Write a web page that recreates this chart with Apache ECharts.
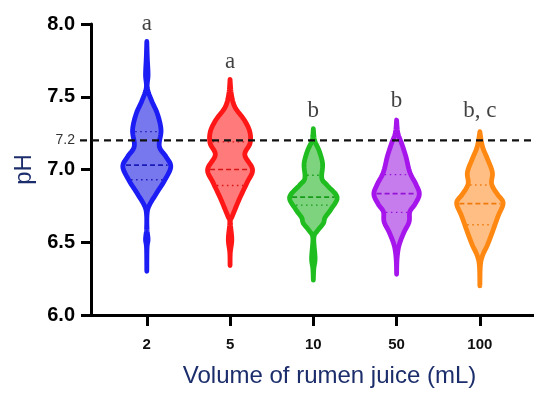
<!DOCTYPE html>
<html>
<head>
<meta charset="utf-8">
<script src="https://cdn.jsdelivr.net/npm/echarts@6/dist/echarts.min.js"></script>
<style>
html,body{margin:0;padding:0;background:#fff;}
#chart{width:534px;height:393px;}
</style>
</head>
<body>
<div id="chart"></div>
<script>
// ---- data ----
const categories = ['2', '5', '10', '50', '100'];
const letters = ['a', 'a', 'b', 'b', 'b, c'];
const letterPH = [8.0, 7.74, 7.40, 7.47, 7.40];
const refPH = 7.2;
const yTicks = [6.0, 6.5, 7.0, 7.5, 8.0];
const yLabelValues = [6.0, 6.5, 7.0, 7.2, 7.5, 8.0];

// violin density profiles: [pH, relative density]
const violin2 = [[7.88,0],[7.77,0.02],[7.65,0.05],[7.56,0.02],[7.47,0.2],[7.38,0.43],[7.27,0.57],[7.16,0.5],[7.09,0.76],[7.02,0.96],[6.93,0.73],[6.84,0.4],[6.75,0.09],[6.69,0.01],[6.59,0.01],[6.52,0.05],[6.46,0.01],[6.30,0]];
const violin5 = [[7.62,0],[7.52,0.05],[7.43,0.19],[7.34,0.57],[7.26,0.79],[7.18,0.8],[7.10,0.59],[7.00,0.9],[6.91,0.68],[6.80,0.38],[6.68,0.09],[6.64,0.01],[6.52,0.07],[6.43,0.01],[6.34,0]];
const violin10 = [[7.28,0],[7.20,0.05],[7.13,0.23],[7.04,0.37],[6.94,0.34],[6.89,0.56],[6.81,0.95],[6.73,0.72],[6.67,0.47],[6.63,0.4],[6.58,0.17],[6.53,0.02],[6.39,0.07],[6.32,0.02],[6.24,0]];
const violin50 = [[7.34,0],[7.25,0.05],[7.18,0.2],[7.09,0.37],[6.98,0.53],[6.90,0.77],[6.83,0.91],[6.76,0.73],[6.71,0.53],[6.64,0.5],[6.57,0.3],[6.48,0.1],[6.39,0.02],[6.28,0]];
const violin100 = [[7.26,0],[7.16,0.1],[7.07,0.31],[6.98,0.5],[6.90,0.47],[6.83,0.7],[6.77,0.93],[6.68,0.73],[6.57,0.5],[6.48,0.3],[6.41,0.11],[6.34,0.02],[6.20,0]];
const profiles = [violin2, violin5, violin10, violin50, violin100];

// quartiles: [Q1, median, Q3]
const quartiles2 = [6.93, 7.03, 7.26];
const quartiles5 = [6.89, 7.00, 7.19];
const quartiles10 = [6.755, 6.81, 6.96];
const quartiles50 = [6.705, 6.834, 6.965];
const quartiles100 = [6.62, 6.766, 6.893];
const quartiles = [quartiles2, quartiles5, quartiles10, quartiles50, quartiles100];

// ---- styles ----
const strokeColors = ['#1c1cf5', '#ff1616', '#1fbd1f', '#a616ec', '#ff8812'];
const fillColors = ['#7878ee', '#ff7a7a', '#7ed47e', '#c77cee', '#ffbf84'];
const lineColors = ['#1a1ab8', '#d81414', '#179a17', '#9412d4', '#ee7a0c'];
const HALF = 0.30; // x-units for density 1

function catmull(pts, steps) {
  const out = [];
  for (let i = 0; i < pts.length - 1; i++) {
    const p0 = pts[Math.max(0, i - 1)], p1 = pts[i], p2 = pts[i + 1], p3 = pts[Math.min(pts.length - 1, i + 2)];
    for (let s = 0; s < steps; s++) {
      const t = s / steps, t2 = t * t, t3 = t2 * t;
      const f = (a, b, c, d) => 0.5 * ((2 * b) + (-a + c) * t + (2 * a - 5 * b + 4 * c - d) * t2 + (-a + 3 * b - 3 * c + d) * t3);
      out.push([f(p0[0], p1[0], p2[0], p3[0]), f(p0[1], p1[1], p2[1], p3[1])]);
    }
  }
  out.push(pts[pts.length - 1]);
  return out;
}

function densityAt(prof, p) {
  for (let i = 0; i < prof.length - 1; i++) {
    const a = prof[i], b = prof[i + 1];
    if ((p <= a[0] && p >= b[0])) {
      const t = (a[0] - p) / (a[0] - b[0]);
      return a[1] + (b[1] - a[1]) * t;
    }
  }
  return 0;
}

function renderViolin(params, api) {
  const i = params.dataIndex;
  const prof = profiles[i];
  const xc = i + 1;
  const c = api.coord([xc, prof[0][0]])[0];
  const unitPx = api.size([1, 0])[0];
  const rightPx = prof.map(([p, d]) => { const y = api.coord([xc, p])[1]; return [c + d * HALF * unitPx, y]; });
  const rs = catmull(rightPx, 8);
  const ls = rs.slice(1, -1).reverse().map(([x, y]) => [2 * c - x, y]);
  const poly = rs.concat(ls);
  const children = [{
    type: 'polygon',
    shape: { points: poly },
    style: { fill: fillColors[i], stroke: strokeColors[i], lineWidth: 4.8, lineJoin: 'round' }
  }];
  quartiles[i].forEach((q, k) => {
    const y = api.coord([xc, q])[1];
    const hw = Math.max(0, densityAt(prof, q) * HALF * unitPx - 2.5);
    children.push({
      type: 'line',
      shape: { x1: c - hw, y1: y, x2: c + hw, y2: y },
      style: k === 1
        ? { stroke: lineColors[i], lineWidth: 1.7, lineDash: [5, 3] }
        : { stroke: lineColors[i], lineWidth: 1.4, lineDash: [1.5, 3.5] }
    });
  });
  return { type: 'group', children };
}

function renderRef(params, api) {
  const cs = params.coordSys;
  const y = api.coord([1, api.value(0)])[1];
  return {
    type: 'line',
    shape: { x1: cs.x - 11, y1: y, x2: cs.x + cs.width, y2: y },
    style: { stroke: '#111', lineWidth: 2.2, lineDash: [7, 5] }
  };
}

const chart = echarts.init(document.getElementById('chart'), null, { renderer: 'canvas' });
chart.setOption({
  animation: false,
  backgroundColor: '#fff',
  grid: { left: 91, right: 0, top: 24, bottom: 74, containLabel: false },
  xAxis: {
    type: 'value', min: 0.33, max: 5.65,
    splitLine: { show: false },
    axisLine: { show: true, onZero: false, lineStyle: { color: '#000', width: 3 } },
    axisTick: { show: true, length: 11, lineStyle: { color: '#000', width: 3 }, customValues: [1, 2, 3, 4, 5] },
    axisLabel: {
      show: true, customValues: [1, 2, 3, 4, 5], margin: 22,
      formatter: v => categories[Math.round(v) - 1],
      fontFamily: 'Liberation Sans, Arial', fontWeight: 'bold', fontSize: 15, color: '#111'
    },
    name: 'Volume of rumen juice (mL)', nameLocation: 'middle', nameGap: 49,
    nameTextStyle: { fontFamily: 'Liberation Sans, Arial', fontSize: 24, color: '#1c2d6b', padding: [0, 0, 0, 34] }
  },
  yAxis: {
    type: 'value', min: 6, max: 8, interval: 0.5,
    splitLine: { show: false },
    axisLine: { show: true, lineStyle: { color: '#000', width: 3 } },
    axisTick: { show: true, length: 10, lineStyle: { color: '#000', width: 3 }, customValues: yTicks },
    axisLabel: {
      show: true, customValues: yLabelValues, margin: 16,
      formatter: v => Math.abs(v - refPH) < 1e-6 ? '{s|' + v.toFixed(1) + '}' : '{b|' + v.toFixed(1) + '}',
      rich: {
        b: { fontFamily: 'Liberation Sans, Arial', fontWeight: 'bold', fontSize: 20, color: '#000' },
        s: { fontFamily: 'Liberation Sans, Arial', fontWeight: 'normal', fontSize: 14, color: '#333' }
      }
    },
    name: 'pH', nameLocation: 'middle', nameGap: 55,
    nameTextStyle: { fontFamily: 'Liberation Sans, Arial', fontSize: 24, color: '#1c2d6b' }
  },
  series: [
    {
      type: 'custom', name: 'violins', renderItem: renderViolin,
      data: categories.map((c, i) => [i + 1]), clip: false, z: 2
    },
    {
      type: 'custom', name: 'ref', renderItem: renderRef,
      data: [[refPH]], clip: false, z: 5
    },
    {
      type: 'scatter', name: 'letters', symbolSize: 0, z: 6,
      data: categories.map((c, i) => [i + 1, letterPH[i]]),
      label: {
        show: true, position: 'inside',
        formatter: p => letters[p.dataIndex],
        fontFamily: 'Liberation Serif, Times New Roman, serif', fontSize: 23, color: '#111'
      }
    }
  ]
});
</script>
</body>
</html>
